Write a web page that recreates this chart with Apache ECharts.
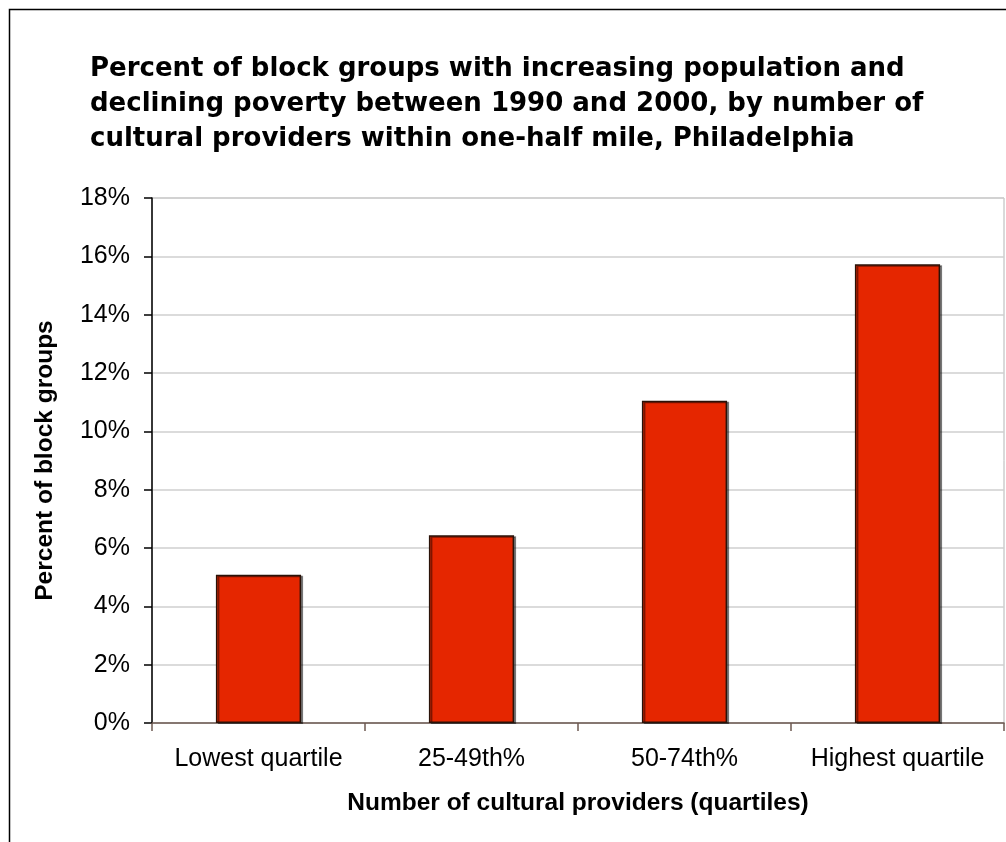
<!DOCTYPE html>
<html>
<head>
<meta charset="utf-8">
<style>
  html, body { margin: 0; padding: 0; background: #ffffff; }
  #chart { width: 1006px; height: 842px; }
</style>
<script src="https://cdn.jsdelivr.net/npm/echarts@6/dist/echarts.min.js"></script>
</head>
<body>
<div id="chart"></div>
<script>
// Share of block groups gaining population while poverty fell, 1990-2000
const categories = ['Lowest quartile', '25-49th%', '50-74th%', 'Highest quartile'];
const percentValues = [5.08, 6.44, 11.05, 15.73];
const titleLines = [
  'Percent of block groups with increasing population and',
  'declining poverty between 1990 and 2000, by number of',
  'cultural providers within one-half mile, Philadelphia'
];
const yAxisTitle = 'Percent of block groups';
const xAxisTitle = 'Number of cultural providers (quartiles)';

const sans = '"Liberation Sans", Arial, sans-serif';

const chart = echarts.init(document.getElementById('chart'), null, { renderer: 'canvas' });

chart.setOption({
  backgroundColor: '#ffffff',
  animation: false,
  title: {
    text: titleLines.join('\n'),
    left: 85,
    top: 47,
    textStyle: {
      fontFamily: '"DejaVu Sans", Verdana, sans-serif',
      fontWeight: 'bold',
      fontSize: 26,
      lineHeight: 35,
      color: '#000000'
    }
  },
  graphic: [{
    type: 'rect',
    shape: { x: 9.5, y: 9.5, width: 1100, height: 1000 },
    style: { fill: 'none', stroke: '#000000', lineWidth: 1.5 },
    silent: true,
    z: -1
  }],
  grid: {
    left: 152,
    top: 198,
    right: 2,
    bottom: 119,
    show: true,
    borderColor: '#b4b4b4',
    borderWidth: 1
  },
  xAxis: {
    type: 'category',
    data: categories,
    name: xAxisTitle,
    nameLocation: 'middle',
    nameGap: 68,
    nameTextStyle: { fontFamily: sans, fontWeight: 'bold', fontSize: 24.5, color: '#000000' },
    axisLine: { lineStyle: { color: '#6e5a52', width: 1.5 } },
    axisTick: { show: true, alignWithLabel: false, length: 8, lineStyle: { color: '#6e5a52', width: 1.5 } },
    axisLabel: { interval: 0, fontFamily: sans, fontSize: 25, color: '#000000', margin: 24 },
    splitLine: { show: false }
  },
  yAxis: {
    type: 'value',
    min: 0,
    max: 18,
    interval: 2,
    name: yAxisTitle,
    nameLocation: 'middle',
    nameGap: 94,
    nameTextStyle: { fontFamily: sans, fontWeight: 'bold', fontSize: 24.5, color: '#000000' },
    axisLine: { show: true, lineStyle: { color: '#000000', width: 1.5 } },
    axisTick: { show: true, length: 8, lineStyle: { color: '#000000', width: 1.5 } },
    axisLabel: { formatter: '{value}%', fontFamily: sans, fontSize: 25, color: '#000000', margin: 22 },
    splitLine: { show: true, lineStyle: { color: '#cfcfcf', width: 1.5 } }
  },
  series: [{
    type: 'bar',
    data: percentValues,
    barWidth: '40%',
    itemStyle: {
      color: '#e52600',
      borderColor: '#2a1208',
      borderWidth: 1.5,
      shadowColor: 'rgba(0,0,0,0.45)',
      shadowOffsetX: 2,
      shadowOffsetY: 1,
      shadowBlur: 0
    }
  }]
});
</script>
</body>
</html>
